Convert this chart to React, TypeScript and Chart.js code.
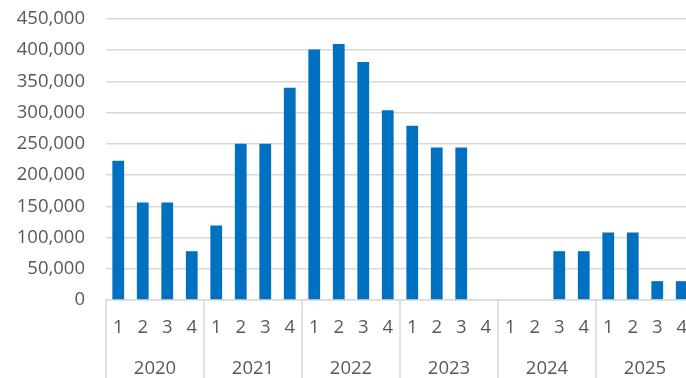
import React, { useEffect, useRef } from 'react';
import { Chart, registerables } from 'chart.js';

Chart.register(...registerables);

const years = ['2020', '2021', '2022', '2023', '2024', '2025'];
const quarters = ['1', '2', '3', '4'];
const values = [
  223000, 156000, 156000, 78000,
  119000, 250000, 250000, 340000,
  401000, 410000, 381000, 304000,
  279000, 244000, 244000, 0,
  0, 0, 78000, 78000,
  108000, 108000, 30000, 30000,
];
const yMax = 450000;
const yStep = 50000;

const FONT = 'Open Sans';
const TEXT = '#595959';
const GRID = '#d9d9d9';
const BAR = '#0070C0';
const CLEAR = 'rgba(0,0,0,0)';

const separators = {
  id: 'yearSeparators',
  afterDraw(chart: any) {
    const x = chart.scales.x;
    const ctx = chart.ctx;
    const n = x.ticks.length;
    if (!n) return;
    const half = (x.getPixelForTick(1) - x.getPixelForTick(0)) / 2;
    ctx.save();
    ctx.strokeStyle = GRID;
    ctx.lineWidth = 1.5;
    for (let i = 0; i <= n; i += quarters.length) {
      const px = i < n ? x.getPixelForTick(i) - half : x.getPixelForTick(n - 1) + half;
      ctx.beginPath();
      ctx.moveTo(px, x.top);
      ctx.lineTo(px, chart.height);
      ctx.stroke();
    }
    ctx.restore();
  },
};

export default function App() {
  const ref = useRef<HTMLCanvasElement | null>(null);

  useEffect(() => {
    document.body.style.overflow = 'hidden';
    const quarterLabels = years.flatMap(() => quarters);
    const chart = new Chart(ref.current as HTMLCanvasElement, {
      type: 'bar',
      data: {
        labels: quarterLabels,
        datasets: [
          {
            data: values,
            backgroundColor: BAR,
            borderWidth: 0,
            barPercentage: 1,
            categoryPercentage: 0.48,
            xAxisID: 'x',
            yAxisID: 'y',
          },
        ],
      },
      options: {
        animation: false,
        responsive: false,
        layout: { padding: { top: 19, right: 6, left: 0, bottom: 0 } },
        plugins: { legend: { display: false }, tooltip: { enabled: false } },
        scales: {
          y: {
            min: 0,
            max: yMax,
            afterFit: (s: any) => {
              s.width = 106;
            },
            ticks: {
              stepSize: yStep,
              color: TEXT,
              padding: 0,
              font: { family: FONT, size: 18.5 },
              callback: (v: any) => Number(v).toLocaleString('en-US'),
            },
            grid: { color: GRID, lineWidth: 1.5, drawTicks: true, tickLength: 21, tickColor: CLEAR },
            border: { display: false },
          },
          x: {
            type: 'category',
            offset: true,
            ticks: {
              color: TEXT,
              autoSkip: false,
              maxRotation: 0,
              padding: 0,
              font: { family: FONT, size: 18.5 },
            },
            grid: { display: true, drawOnChartArea: false, drawTicks: true, tickLength: 17, tickColor: CLEAR, color: CLEAR },
            border: { display: true, color: GRID, width: 1.5 },
          },
          x2: {
            type: 'category',
            labels: years,
            position: 'bottom',
            offset: true,
            ticks: {
              color: TEXT,
              autoSkip: false,
              maxRotation: 0,
              padding: 0,
              font: { family: FONT, size: 18.5, lineHeight: 1 },
            },
            grid: { display: true, drawOnChartArea: false, drawTicks: true, tickLength: 20.4, tickColor: CLEAR, color: CLEAR },
            border: { display: false },
          },
        },
      },
      plugins: [separators],
    });
    return () => chart.destroy();
  }, []);

  return (
    <div style={{ position: 'fixed', left: 0, top: 0, width: 700, height: 378 }}>
      <canvas ref={ref} width={700} height={378} />
    </div>
  );
}
